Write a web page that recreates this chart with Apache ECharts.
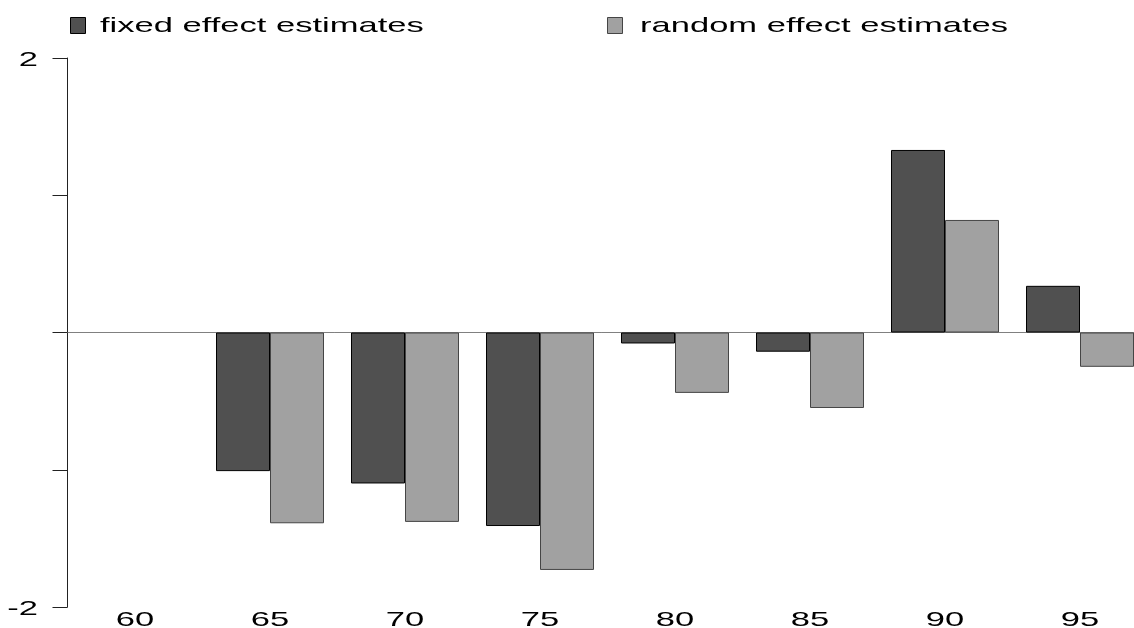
<!DOCTYPE html>
<html>
<head>
<meta charset="utf-8">
<script src="https://cdn.jsdelivr.net/npm/echarts@6/dist/echarts.min.js"></script>
<style>
html,body{margin:0;padding:0;background:#fff;}
#c{width:1134px;height:628px;}
</style>
</head>
<body>
<div id="c"></div>
<script>
// ---- data ----
const categories = ['60', '65', '70', '75', '80', '85', '90', '95'];
const fixedEffect = [null, -1.01, -1.10, -1.41, -0.08, -0.14, 1.33, 0.34];
const randomEffect = [null, -1.39, -1.38, -1.73, -0.44, -0.55, 0.82, -0.25];
const yLabelValues = [2, -2];
const seriesNames = ['fixed effect estimates', 'random effect estimates'];

// ---- styling ----
const FONT = '21px "Liberation Sans", Arial, sans-serif';
const STRETCH = 1.645;
const darkFill = '#505050', darkBorder = '#000000';
const lightFill = '#a1a1a1', lightBorder = '#454545';

const chart = echarts.init(document.getElementById('c'), null, { renderer: 'canvas' });

const option = {
  animation: false,
  backgroundColor: '#ffffff',
  grid: { left: 67.5, top: 58, width: 1080, height: 549, containLabel: false, outerBoundsMode: 'none' },
  xAxis: {
    type: 'category',
    data: categories,
    axisLine: { show: true, onZero: true, lineStyle: { color: '#808080', width: 1 } },
    axisTick: { show: false },
    axisLabel: { show: false },
    splitLine: { show: false }
  },
  yAxis: {
    type: 'value',
    min: -2, max: 2, interval: 1,
    axisLine: { show: true, lineStyle: { color: '#222', width: 1 } },
    axisTick: { show: true, inside: false, length: 15, lineStyle: { color: '#222', width: 1 } },
    axisLabel: { show: false },
    splitLine: { show: false }
  },
  series: [
    {
      name: seriesNames[0], type: 'bar', data: fixedEffect,
      barWidth: 54, barGap: '0%',
      itemStyle: { color: darkFill, borderColor: darkBorder, borderWidth: 1 }
    },
    {
      name: seriesNames[1], type: 'bar', data: randomEffect,
      barWidth: 54, barGap: '0%',
      itemStyle: { color: lightFill, borderColor: lightBorder, borderWidth: 1 }
    }
  ]
};
chart.setOption(option);

function stretchedText(x, y, text, align) {
  return {
    type: 'text', x: x, y: y, scaleX: STRETCH, scaleY: 1, silent: true,
    style: {
      text: text, font: FONT, fill: '#000',
      align: align, verticalAlign: 'middle',
      textAlign: align, textVerticalAlign: 'middle'
    }
  };
}

const elements = [];
// x-axis category labels at the bottom
const bottomY = chart.convertToPixel({ gridIndex: 0 }, [categories[0], -2])[1];
categories.forEach(function (c) {
  const px = chart.convertToPixel({ gridIndex: 0 }, [c, 0])[0];
  elements.push(stretchedText(px, bottomY + 13, c, 'center'));
});
// y-axis end labels
yLabelValues.forEach(function (v) {
  const py = chart.convertToPixel({ gridIndex: 0 }, [categories[0], v])[1];
  elements.push(stretchedText(38, py + 2, String(v), 'right'));
});
// legend
elements.push({ type: 'rect', silent: true, shape: { x: 70.5, y: 17.5, width: 15, height: 16 },
  style: { fill: darkFill, stroke: darkBorder, lineWidth: 1 } });
elements.push(stretchedText(100, 26, seriesNames[0], 'left'));
elements.push({ type: 'rect', silent: true, shape: { x: 607.5, y: 17.5, width: 15, height: 16 },
  style: { fill: lightFill, stroke: lightBorder, lineWidth: 1 } });
elements.push(stretchedText(640, 26, seriesNames[1], 'left'));

chart.setOption({ graphic: { elements: elements } });
</script>
</body>
</html>
